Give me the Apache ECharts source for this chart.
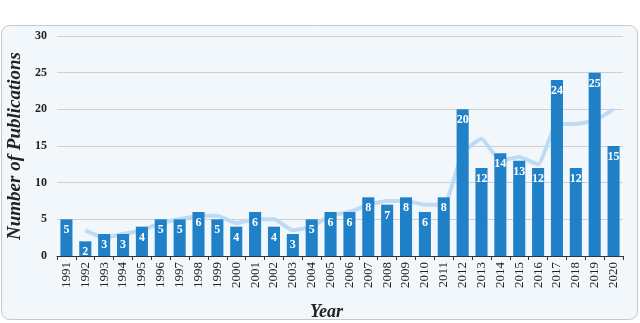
<!DOCTYPE html>
<html><head><meta charset="utf-8">
<script src="https://cdn.jsdelivr.net/npm/echarts@6/dist/echarts.min.js"></script>
<style>html,body{margin:0;padding:0;background:#fff}#c{width:640px;height:323px}</style>
</head><body><div id="c"></div>
<script>
const years = ['1991','1992','1993','1994','1995','1996','1997','1998','1999','2000','2001','2002','2003','2004','2005','2006','2007','2008','2009','2010','2011','2012','2013','2014','2015','2016','2017','2018','2019','2020'];
const publications = [5,2,3,3,4,5,5,6,5,4,6,4,3,5,6,6,8,7,8,6,8,20,12,14,13,12,24,12,25,15];
const movingAvg = ['-',3.5,2.5,3,3.5,4.5,5,5.5,5.5,4.5,5,5,3.5,4,5.5,6,7,7.5,7.5,7,7,14,16,13,13.5,12.5,18,18,18.5,20];
const yTicks = [0,5,10,15,20,25,30];

const chart = echarts.init(document.getElementById('c'), null, {renderer:'canvas'});
const serif = '"Liberation Serif","DejaVu Serif",serif';
chart.setOption({
  animation:false,
  graphic:[{type:'rect',z:-10,shape:{x:1.5,y:25.5,width:636,height:294,r:8},style:{fill:'#f2f7fc',stroke:'#c8c8c8',lineWidth:1}}],
  grid:{left:57,right:17,top:36,bottom:67,containLabel:false,outerBoundsMode:'none'},
  xAxis:{type:'category',data:years,boundaryGap:true,
    name:'Year',nameLocation:'middle',nameGap:47,
    nameTextStyle:{fontFamily:serif,fontSize:18,fontWeight:'bold',fontStyle:'italic',color:'#222',padding:[0,27,0,0]},
    axisLine:{lineStyle:{color:'#333',width:1}},
    axisTick:{show:true,alignWithLabel:false,length:4,lineStyle:{color:'#333'}},
    axisLabel:{rotate:90,interval:0,fontFamily:serif,fontSize:13,color:'#222',margin:6}},
  yAxis:{type:'value',min:0,max:30,interval:5,
    name:'Number of Publications',nameLocation:'middle',nameGap:29,
    nameTextStyle:{fontFamily:serif,fontSize:19,fontWeight:'bold',fontStyle:'italic',color:'#222'},
    axisLine:{show:false},axisTick:{show:false},
    axisLabel:{fontFamily:serif,fontSize:12,fontWeight:'bold',color:'#222',margin:10,
      formatter:v=>yTicks.includes(v)?String(v):''},
    splitLine:{lineStyle:{color:'#cfcfcf',width:1}}},
  series:[
    {type:'line',data:movingAvg,smooth:0.15,symbol:'none',z:1,
     lineStyle:{color:'#bfdbf3',width:4}},
    {type:'bar',data:publications,barWidth:'64%',z:2,itemStyle:{color:'#2080c8'},
     label:{show:true,position:'insideTop',distance:5,color:'#fff',fontFamily:serif,fontWeight:'bold',fontSize:12}}
  ]
});
</script></body></html>
